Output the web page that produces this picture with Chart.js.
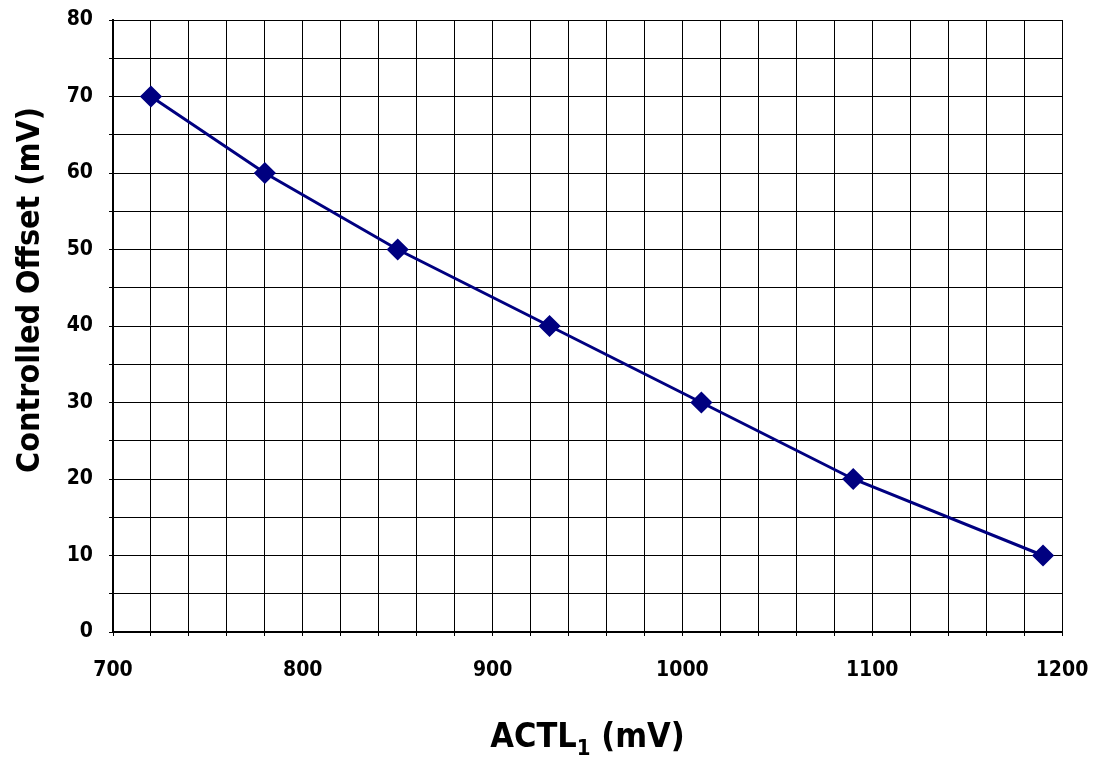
<!DOCTYPE html>
<html>
<head>
<meta charset="utf-8">
<script src="https://cdn.jsdelivr.net/npm/chart.js@4/dist/chart.umd.min.js"></script>
<style>
  html, body { margin: 0; padding: 0; background: #fff; }
  #wrap { width: 1094px; height: 762px; }
</style>
</head>
<body>
<div id="wrap"><canvas id="offsetChart" width="1094" height="762"></canvas></div>
<script>
    // data
    const actl = [720, 780, 850, 930, 1010, 1090, 1190];
    const offset = [70, 60, 50, 40, 30, 20, 10];

    const xTitle = 'ACTL';
    const xTitleSub = '1';
    const xTitleUnit = ' (mV)';
    const yTitle = 'Controlled Offset (mV)';

    const fontFamily = "'Liberation Sans Narrow', 'DejaVu Sans Condensed', 'Arial Narrow', sans-serif";

    // axis titles (x has a subscript, y sits a bit above centre like the original)
    const titlesPlugin = {
        id: 'titlesPlugin',
        afterDraw(chart) {
            const ctx = chart.ctx;
            const area = chart.chartArea;
            ctx.save();
            ctx.fillStyle = '#000';

            ctx.textBaseline = 'alphabetic';
            ctx.textAlign = 'left';
            ctx.font = 'bold 34px ' + fontFamily;
            const w1 = ctx.measureText(xTitle).width;
            const w3 = ctx.measureText(xTitleUnit).width;
            ctx.font = 'bold 22px ' + fontFamily;
            const w2 = ctx.measureText(xTitleSub).width;
            const cx = (area.left + area.right) / 2;
            let x = cx - (w1 + w2 + w3) / 2;
            const base = 747;
            ctx.font = 'bold 34px ' + fontFamily;
            ctx.fillText(xTitle, x, base);
            x += w1;
            ctx.font = 'bold 22px ' + fontFamily;
            ctx.fillText(xTitleSub, x, base + 8);
            x += w2;
            ctx.font = 'bold 34px ' + fontFamily;
            ctx.fillText(xTitleUnit, x, base);

            ctx.translate(31, 290);
            ctx.rotate(-Math.PI / 2);
            ctx.textAlign = 'center';
            ctx.textBaseline = 'middle';
            ctx.font = 'bold 32px ' + fontFamily;
            ctx.fillText(yTitle, 0, 0);
            ctx.restore();
        }
    };

    let ctx = document.getElementById('offsetChart');

    let offsetChart = new Chart(ctx, {
        type: 'scatter',
        data: {
            datasets: [{
                data: actl.map((v, i) => ({ x: v, y: offset[i] })),
                showLine: true,
                borderColor: '#000080',
                backgroundColor: '#000080',
                borderWidth: 3,
                pointStyle: 'rectRot',
                pointRadius: 9,
                pointHoverRadius: 9
            }]
        },
        options: {
            responsive: false,
            animation: false,
            layout: { padding: { left: 0, right: 32, top: 20, bottom: 0 } },
            plugins: {
                legend: { display: false },
                tooltip: { enabled: false }
            },
            scales: {
                x: {
                    type: 'linear',
                    min: 700,
                    max: 1200,
                    afterFit(scale) {
                        scale.height = 130;
                        scale.paddingLeft = 0;
                        scale.paddingRight = 0;
                    },
                    ticks: {
                        stepSize: 20,
                        autoSkip: false,
                        maxRotation: 0,
                        padding: 22,
                        color: '#000',
                        font: { family: fontFamily, size: 21, weight: 'bold' },
                        callback: v => (v % 100 === 0 ? v : '')
                    },
                    grid: { color: '#000', lineWidth: 1, tickLength: 4 },
                    border: { color: '#000', width: 2 }
                },
                y: {
                    min: 0,
                    max: 80,
                    afterFit(scale) {
                        scale.width = 113;
                        scale.paddingTop = 0;
                        scale.paddingBottom = 0;
                    },
                    ticks: {
                        stepSize: 5,
                        autoSkip: false,
                        padding: 16,
                        color: '#000',
                        font: { family: fontFamily, size: 21, weight: 'bold' },
                        callback: v => (v % 10 === 0 ? v : '')
                    },
                    grid: { color: '#000', lineWidth: 1, tickLength: 4 },
                    border: { color: '#000', width: 2 }
                }
            }
        },
        plugins: [titlesPlugin]
    });
</script>
</body>
</html>
